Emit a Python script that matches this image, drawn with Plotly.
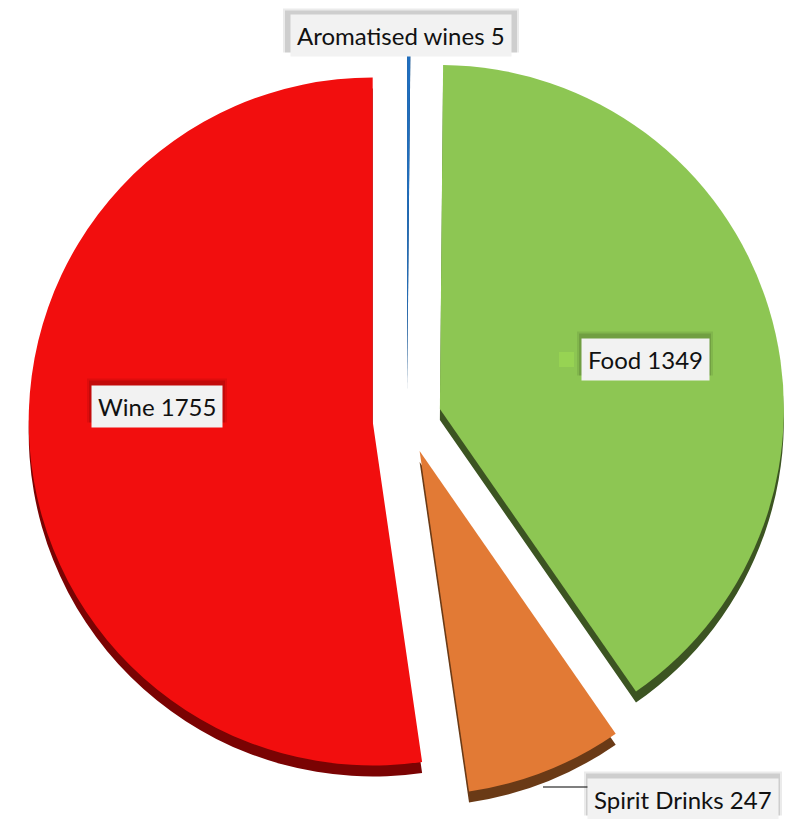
import plotly.graph_objects as go

# Data
categories = ["Aromatised wines", "Food", "Spirit Drinks", "Wine"]
values = [5, 1349, 247, 1755]

# Styles
top_colors = ["#1F6FC0", "#8DC653", "#E27A35", "#F20E0E"]
side_colors = ["#0E3A66", "#3C5422", "#6A3A16", "#7A0303"]

W, H = 792, 819
cx, cy = 407, 419          # pie centre in pixels
radius = 344
pull = 0.1
depth = 11                 # thickness of the extruded side
half = radius * (1 + pull)


def pie_domain(px, py):
    return dict(x=[(px - half) / W, (px + half) / W],
                y=[1 - (py + half) / H, 1 - (py - half) / H])


fig = go.Figure()

# Side wall of the extruded pie (drawn first, slightly lower)
fig.add_trace(go.Pie(
    labels=categories, values=values, sort=False, direction="clockwise",
    rotation=0, pull=[pull] * len(values), textinfo="none", hoverinfo="skip",
    marker=dict(colors=side_colors, line=dict(width=0)),
    domain=pie_domain(cx, cy + depth), showlegend=False,
))

# Top face
fig.add_trace(go.Pie(
    labels=categories, values=values, sort=False, direction="clockwise",
    rotation=0, pull=[pull] * len(values), textinfo="none",
    marker=dict(colors=top_colors, line=dict(width=0)),
    domain=pie_domain(cx, cy), showlegend=False,
))

# Data label centres and box widths (pixels)
label_pos = {
    "Aromatised wines": (401, 36),
    "Food": (645, 359),
    "Spirit Drinks": (683, 799),
    "Wine": (157, 406),
}
box_w = {"Aromatised wines": 230, "Food": 130, "Spirit Drinks": 192, "Wine": 134}
box_h = 41


def px_rect(x0, y0, x1, y1, color):
    return dict(type="rect", xref="paper", yref="paper",
                x0=x0 / W, x1=x1 / W, y0=1 - y1 / H, y1=1 - y0 / H,
                fillcolor=color, line=dict(width=0))


annotations = []
shapes = []
for cat, val in zip(categories, values):
    px, py = label_pos[cat]
    hw, hh = box_w[cat] / 2, box_h / 2
    # soft drop shadow behind each label box (slightly above it)
    shapes.append(px_rect(px - hw - 3, py - hh - 7, px + hw + 3, py + hh - 4, "rgba(0,0,0,0.08)"))
    shapes.append(px_rect(px - hw - 1, py - hh - 5, px + hw + 1, py + hh - 4, "rgba(0,0,0,0.12)"))
    annotations.append(dict(
        x=px / W, y=1 - py / H, xref="paper", yref="paper",
        xanchor="center", yanchor="middle", showarrow=False,
        text=f"{cat} {val}",
        font=dict(family="Lato", size=24, color="#111111"),
        bgcolor="#F2F2F2", borderpad=6,
    ))

# legend key inside the Food label
shapes.append(px_rect(559, 352, 574, 367, "#97D353"))
# leader line to the Spirit Drinks label
shapes.append(dict(type="line", xref="paper", yref="paper",
                   x0=543 / W, x1=588 / W, y0=1 - 787 / H, y1=1 - 787 / H,
                   line=dict(color="#000000", width=1.2)))

fig.update_layout(
    width=W, height=H,
    margin=dict(l=0, r=0, t=0, b=0),
    paper_bgcolor="white", plot_bgcolor="white",
    annotations=annotations, shapes=shapes,
)

fig.write_html("out.html")
